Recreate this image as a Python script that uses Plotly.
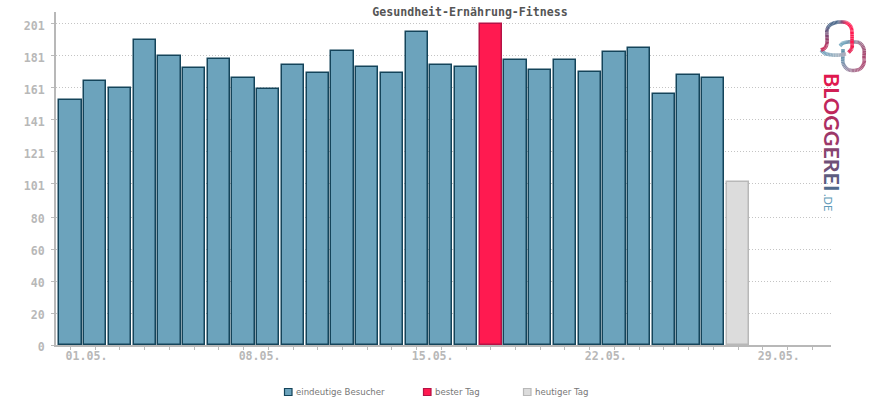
import plotly.graph_objects as go

# ---- data ----
days = list(range(1, 29))
visitors = [153, 165, 161, 191, 181, 173, 179, 167, 160, 175, 170, 184, 174, 170, 196, 175, 174,
            None, 178, 172, 178, 171, 183, 186, 157, 169, 167, None]
best_day = [18]
best_value = [201]
today = [28]
today_value = [102]
y_ticks = [0, 20, 40, 60, 80, 101, 121, 141, 161, 181, 201]
x_tick_days = list(range(1, 32))
x_tick_labels = {1: "01.05.", 8: "08.05.", 15: "15.05.", 22: "22.05.", 29: "29.05."}
title_text = "Gesundheit-Ernährung-Fitness"
series_names = ["eindeutige Besucher", "bester Tag", "heutiger Tag"]
fills = ["#6ca3bc", "#ff1a50", "#dcdcdc"]
edges = ["#14445a", "#b51245", "#b8b8b8"]
logo_word = "BLOGGEREI"
logo_colors = ["#e0184f", "#d01f55", "#c0265b", "#ae2e62", "#9c3869", "#87446f", "#6f5077", "#5d5c80", "#4f6a8c"]

# ---- layout geometry ----
L, R, T, B = 56, 39, 12, 55
W, H = 870, 400
PW, PH = W - L - R, H - T - B
MONO = "DejaVu Sans Mono"


def px(x, y):
    return (x - L) / PW, (H - B - y) / PH


def hex2rgb(c):
    return tuple(int(c[i:i + 2], 16) for i in (1, 3, 5))


def spline(points, colors, width=3.6, sub=5):
    """Smooth gradient stroke for the logo, made of short line shapes."""
    out = []
    pts = [points[0]] + points + [points[-1]]
    n = len(points) - 1
    prev = None
    for i in range(n):
        p0, p1, p2, p3 = pts[i], pts[i + 1], pts[i + 2], pts[i + 3]
        for k in range(sub + 1):
            t = k / sub
            q = [0.5 * (2 * p1[a] + (p2[a] - p0[a]) * t + (2 * p0[a] - 5 * p1[a] + 4 * p2[a] - p3[a]) * t ** 2
                        + (3 * p1[a] - p0[a] - 3 * p2[a] + p3[a]) * t ** 3) for a in (0, 1)]
            if prev is not None and k > 0:
                f = (i + t) / n * (len(colors) - 1)
                j = min(int(f), len(colors) - 2)
                u = f - j
                a, b = hex2rgb(colors[j]), hex2rgb(colors[j + 1])
                col = "rgb(%d,%d,%d)" % tuple(a[m] + (b[m] - a[m]) * u for m in range(3))
                x0, y0 = px(*prev)
                x1, y1 = px(*q)
                out.append(dict(type="line", xref="paper", yref="paper", x0=x0, y0=y0, x1=x1, y1=y1,
                                line=dict(color=col, width=width), layer="above"))
            prev = q
    return out


fig = go.Figure()
fig.add_bar(x=days, y=visitors, name=series_names[0], width=0.9, marker=dict(color=fills[0], line=dict(color=edges[0], width=1.5)))
fig.add_bar(x=best_day, y=best_value, name=series_names[1], width=0.9, marker=dict(color=fills[1], line=dict(color=edges[1], width=1.5)))
fig.add_bar(x=today, y=today_value, name=series_names[2], width=0.9, marker=dict(color=fills[2], line=dict(color=edges[2], width=1.5)))

# logo (decoration)
shapes = []
shapes += spline([(840, 46), (843, 43), (848, 42), (854, 42), (860, 43), (864, 49), (864, 57), (864, 63), (860, 69), (853, 70.5), (847, 69), (843, 63), (843, 55), (843, 49)],
                 ["#6ca3bc", "#6ca3bc", "#8a92a8", "#a0708c", "#a84a72", "#b05078", "#b0708f", "#9a90aa", "#6f97b0", "#5f8fa8"])
shapes += spline([(821, 50), (825, 53.5), (832, 55), (840, 55), (846, 54)],
                 ["#5f9ab8", "#7fa8c0", "#a9b9c6", "#b0a8b8"])
shapes += spline([(821, 50), (825, 48), (827, 43), (827, 36), (827, 30), (830, 25), (836, 22.5), (842, 22), (847, 23), (851, 27), (852, 33), (852, 42), (852, 48), (848.5, 52.5)],
                 ["#d8204f", "#b5315f", "#7d4a75", "#4f6a8c", "#4f6a8c", "#ff1a50", "#ff1a50", "#ff1a50", "#e0204f"])

annotations = [
    dict(text="".join(f'<span style="color:{c}">{ch}</span>' for ch, c in zip(logo_word, logo_colors)),
         x=px(832, 132)[0], y=px(832, 132)[1], xref="paper", yref="paper", showarrow=False,
         xanchor="center", yanchor="middle", textangle=90,
         font=dict(family="Lato", size=21.5, color="#c0265b", weight="bold")),
    dict(text=".DE", x=px(829, 202)[0], y=px(829, 202)[1], xref="paper", yref="paper", showarrow=False,
         xanchor="center", yanchor="middle", textangle=90, font=dict(family="Lato", size=11, color="#5f9ab8")),
]

# legend row, placed as in the reference (tight swatch-to-label gap)
for left, name, fill, edge in zip([284.5, 423.5, 523.5], series_names, fills, edges):
    x0, y0 = px(left, 388.5)
    x1, y1 = px(left + 7.5, 395.5)
    shapes.append(dict(type="rect", xref="paper", yref="paper", x0=x0, y0=y0, x1=x1, y1=y1,
                       fillcolor=fill, line=dict(color=edge, width=1.2)))
    tx, ty = px(left + 11, 392)
    annotations.append(dict(text=name, x=tx, y=ty, xref="paper", yref="paper", showarrow=False,
                            xanchor="left", yanchor="middle", xshift=-2,
                            font=dict(family="DejaVu Sans", size=8.6, color="#777777")))

fig.update_layout(
    width=W, height=H, autosize=False, margin=dict(l=L, r=R, t=T, b=B, pad=0),
    paper_bgcolor="white", plot_bgcolor="white", barmode="overlay", bargap=0,
    title=dict(text=title_text, x=470 / W, xref="container", xanchor="center", y=1 - 12 / H, yref="container", yanchor="middle",
               font=dict(family=MONO, size=11.6, color="#555555", weight="bold")),
    showlegend=False,
    shapes=shapes, annotations=annotations,
    xaxis=dict(range=[0.413, 31.76], tickmode="array", tickvals=x_tick_days,
               ticktext=[x_tick_labels.get(d, "") for d in x_tick_days], ticks="outside", ticklen=3, tickwidth=1,
               tickcolor="#bbbbbb", showgrid=False, zeroline=False, showline=True, linecolor="#b8b8b8", linewidth=2,
               ticklabelshift=16, ticklabelstandoff=-4, tickangle=0,
               tickfont=dict(family=MONO, size=11.6, color="#b8b8b8", weight="bold")),
    yaxis=dict(range=[0, 208.3], tickmode="array", tickvals=y_ticks, ticks="outside", ticklen=3, tickwidth=1,
               tickcolor="#bbbbbb", showgrid=True, gridcolor="#c4c4c4", griddash="1px,2px", gridwidth=1, zeroline=False,
               showline=True, linecolor="#b8b8b8", linewidth=2, ticklabelshift=2, ticklabelstandoff=4,
               tickfont=dict(family=MONO, size=11.6, color="#b8b8b8", weight="bold")),
)
fig.write_html("out.html", config=dict(displayModeBar=False), post_script="document.body.style.margin='0';")
